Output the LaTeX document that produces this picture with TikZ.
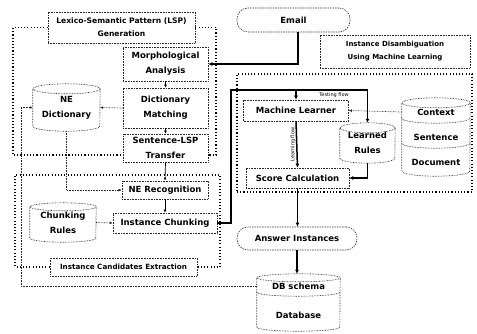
\documentclass[tikz,border=0pt]{standalone}
\usepackage{fontspec}
\setmainfont{DejaVu Sans}
\usetikzlibrary{arrows.meta}
\newcommand\cylshape[3]{%
  \draw[cylline] ([yshift=-#3pt]#1.north west) -- ([yshift=#3pt]#1.south west)
    arc[start angle=180,end angle=360,x radius=#2pt,y radius=#3pt]
    -- ([yshift=-#3pt]#1.north east)
    arc[start angle=0,end angle=180,x radius=#2pt,y radius=#3pt]
    arc[start angle=180,end angle=360,x radius=#2pt,y radius=#3pt];}
\begin{document}
\begin{tikzpicture}[x=1pt,y=-1pt,
  cylline/.style={draw=black!85, line width=0.65pt, dash pattern=on 0.7pt off 0.9pt},
  dotbox/.style={cylline, rectangle, inner sep=0pt, align=center, font=\bfseries\fontsize{8.5}{15}\selectfont},
  lblbox/.style={dotbox, font=\bfseries\fontsize{7}{13}\selectfont},
  grp/.style={draw=black, line width=1.1pt, dash pattern=on 1.1pt off 2.1pt},
  stad/.style={draw=black!80, line width=0.6pt, dash pattern=on 1.5pt off 1pt, rounded corners=11pt, inner sep=0pt, font=\bfseries\fontsize{8.5}{15}\selectfont},
  cyltext/.style={inner sep=0pt, align=center, font=\bfseries\fontsize{8.5}{15}\selectfont},
  flow/.style={draw=black, line width=1.5pt, -{Latex[length=4pt,width=4pt]}},
  plain/.style={draw=black, line width=0.7pt, -{Latex[length=3pt,width=2.8pt]}},
  dotarr/.style={draw=black!85, line width=0.65pt, dash pattern=on 0.7pt off 0.9pt, -{Latex[length=3pt,width=2.8pt]}},
  tinylbl/.style={inner sep=0.5pt, font=\fontsize{5}{6}\selectfont}
]
\useasboundingbox (0,0) rectangle (477,333);

% LSP generation group
\node[lblbox, minimum width=147pt, minimum height=31pt, font=\bfseries\fontsize{7.6}{13}\selectfont] (lsplbl) at (121.5,27.5) {Lexico-Semantic Pattern (LSP)\\Generation};
\node[dotbox, minimum width=85pt, minimum height=34pt] (morph) at (165.5,64) {Morphological\\Analysis};
\node[dotbox, minimum width=85pt, minimum height=40pt] (dict) at (165.5,108) {Dictionary\\Matching};
\node[dotbox, minimum width=85pt, minimum height=28pt] (slt) at (165.5,148) {Sentence-LSP\\Transfer};
\node[cyltext, minimum width=67pt, minimum height=47pt] (nedict) at (66.5,107.5) {NE\\Dictionary};
\cylshape{nedict}{33.5}{5}
\draw[grp] (lsplbl.west) -| (13,155) -- (slt.west |- 13,155);
\draw[grp] (lsplbl.east) -| (216,155) -- (slt.east |- 216,155);

% Instance candidates extraction group
\node[dotbox, minimum width=86pt, minimum height=18pt] (ner) at (165,190) {NE Recognition};
\node[dotbox, minimum width=104pt, minimum height=20pt] (ichunk) at (165,223) {Instance Chunking};
\node[cyltext, minimum width=66pt, minimum height=39pt] (crules) at (63,222.5) {Chunking\\Rules};
\cylshape{crules}{33}{4}
\node[lblbox, minimum width=147pt, minimum height=18pt, font=\bfseries\fontsize{7.2}{13}\selectfont] (icelbl) at (123.5,267) {Instance Candidates Extraction};
\draw[grp] (icelbl.west) -| (15,175) -- (220,175) |- (icelbl.east);

% Email
\node[stad, minimum width=113pt, minimum height=24pt] (email) at (293.5,20) {Email};

% Instance disambiguation group
\node[lblbox, minimum width=150pt, minimum height=33pt] (idlbl) at (395,51.5) {Instance Disambiguation\\Using Machine Learning};
\node[grp, minimum width=235pt, minimum height=118pt, inner sep=0pt] (idgrp) at (354.5,133) {};
\node[dotbox, minimum width=105pt, minimum height=21pt] (ml) at (296,110.5) {Machine Learner};
\node[dotbox, minimum width=103pt, minimum height=20pt] (sc) at (297.5,178) {Score Calculation};
\node[cyltext, minimum width=55pt, minimum height=40pt] (lrules) at (367.5,143) {Learned\\Rules};
\cylshape{lrules}{27.5}{5}
\node[inner sep=0pt, minimum width=68pt, minimum height=78pt] (ctxs) at (436,137) {};
\cylshape{ctxs}{34}{5}
\node[cyltext, minimum width=68pt, minimum height=12pt] (ctx) at (436,112) {Context};
\node[cyltext, minimum width=68pt, minimum height=12pt] (sent) at (436,137) {Sentence};
\node[cyltext, minimum width=68pt, minimum height=12pt] (doc) at (436,162) {Document};
\draw[cylline] (ctx.south west) arc[start angle=180,end angle=360,x radius=34pt,y radius=5pt];
\draw[cylline] (sent.south west) arc[start angle=180,end angle=360,x radius=34pt,y radius=5pt];

% Answer and DB
\node[stad, minimum width=120pt, minimum height=23pt] (answer) at (297,238.5) {Answer Instances};
\node[inner sep=0pt, minimum width=83pt, minimum height=57pt] (db) at (298.5,302.5) {};
\cylshape{db}{41.5}{4}
\node[cyltext, minimum width=83pt, minimum height=12pt] (dbs) at (298.5,286) {DB schema};
\node[cyltext, minimum width=83pt, minimum height=12pt] (dbt) at (298.5,315) {Database};
\draw[cylline] (dbs.south west) arc[start angle=180,end angle=360,x radius=41.5pt,y radius=4pt];

% thin solid arrows
\draw[plain] (morph.south) -- (dict.north);
\draw[plain] (dict.south) -- (slt.north);
\draw[plain] (slt.south) -- (ner.north);
\draw[plain] (ner.south) -- (ichunk.north);

% dotted arrows
\draw[dotarr] (dict.west) -- (nedict.east);
\draw[dotarr] (nedict.south) |- (ner.west);
\draw[dotarr] (crules.east) -- (ichunk.west);
\draw[dotarr] (ctx.west) -- (ml.east);
\coordinate (lc) at (21,107.5);
\draw[dotarr] (dbs.west) -| (lc) -- (nedict.west);

% thick flows
\draw[flow] ([xshift=4.5pt]email.south) |- (morph.east);
\coordinate (tl) at (231,90);
\draw[flow] (ichunk.east) -| (tl) -| (lrules.north);
\draw[flow] (ml.north |- tl) -- (ml.north);
\node[tinylbl, anchor=south] (tflow) at (334,98) {Testing flow};
\draw[flow] (ml.south) -- (sc.north) node[tinylbl, midway, rotate=90, anchor=south] (lflow) {Learning flow};
\draw[flow] (lrules.south) |- (sc.east);
\draw[flow] (sc.south) -- (sc.south |- answer.north);
\draw[flow] (answer.south) -- (answer.south |- db.north);
\end{tikzpicture}
\end{document}
